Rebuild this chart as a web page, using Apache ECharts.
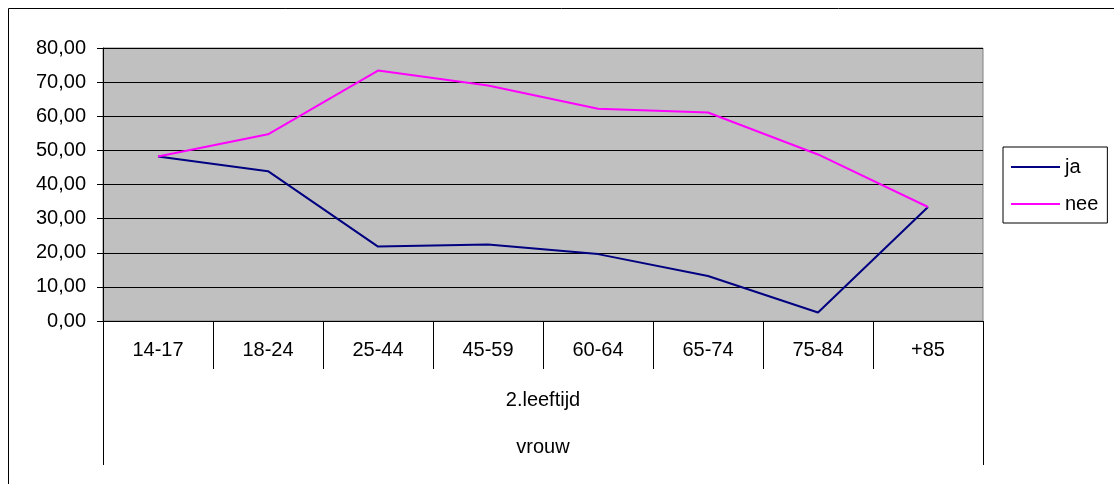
<!DOCTYPE html>
<html><head><meta charset="utf-8">
<script src="https://cdn.jsdelivr.net/npm/echarts@6/dist/echarts.min.js"></script>
<style>html,body{margin:0;padding:0;background:#fff}#c{width:1114px;height:484px}</style>
</head><body><div id="c"></div>
<script>
var categories = ['14-17','18-24','25-44','45-59','60-64','65-74','75-84','+85'];
var groupLevel1 = ['2.leeftijd'];
var groupLevel2 = ['vrouw'];
var jaValues = [48.2, 43.9, 21.8, 22.4, 19.6, 13.2, 2.5, 33.4];
var neeValues = [48.2, 54.7, 73.4, 69.0, 62.2, 61.1, 48.8, 33.4];
var seriesNames = ['ja','nee'];

var font = 'Liberation Sans, Arial, sans-serif';
var fs = 20;
var chart = echarts.init(document.getElementById('c'));
chart.setOption({
  animation: false,
  backgroundColor: '#fff',
  graphic: [{type:'rect', shape:{x:8.5,y:8.5,width:1200,height:600}, style:{fill:'none',stroke:'#000',lineWidth:1}, silent:true, z:-1}],
  grid: {left:103, top:48, width:880, height:273, show:true, backgroundColor:'#C0C0C0', borderColor:'#808080', borderWidth:1},
  legend: {
    orient:'vertical', left:1003, top:147, data:seriesNames,
    icon:'rect', itemWidth:49, itemHeight:2, itemGap:15,
    padding:[9,9,8,8], borderColor:'#000', borderWidth:1, backgroundColor:'#fff',
    textStyle:{fontFamily:font, fontSize:fs, color:'#000', lineHeight:22}
  },
  xAxis: [
    {type:'category', data:categories, boundaryGap:true, position:'bottom',
     axisLine:{show:true, lineStyle:{color:'#000', width:1}},
     axisTick:{show:true, interval:0, length:48, lineStyle:{color:'#000'}},
     axisLabel:{interval:0, margin:19, fontFamily:font, fontSize:fs, color:'#000'}},
    {type:'category', data:groupLevel1, position:'bottom', boundaryGap:true,
     axisLine:{show:false},
     axisTick:{show:true, interval:0, length:144, lineStyle:{color:'#000'}},
     axisLabel:{margin:69, fontFamily:font, fontSize:fs, color:'#000'}},
    {type:'category', data:groupLevel2, position:'bottom', boundaryGap:true,
     axisLine:{show:false}, axisTick:{show:false},
     axisLabel:{margin:116, fontFamily:font, fontSize:fs, color:'#000'}}
  ],
  yAxis: {type:'value', min:0, max:80, interval:10,
    axisLine:{show:true, lineStyle:{color:'#000'}},
    axisTick:{show:true, length:6, inside:false, lineStyle:{color:'#000'}},
    splitLine:{show:true, lineStyle:{color:'#000', width:1}},
    axisLabel:{margin:17, fontFamily:font, fontSize:fs, color:'#000',
      formatter:function(v){return v.toFixed(2).replace('.',',');}}
  },
  series: [
    {name:seriesNames[0], type:'line', data:jaValues, symbol:'none', lineStyle:{color:'#000080', width:2}, itemStyle:{color:'#000080'}},
    {name:seriesNames[1], type:'line', data:neeValues, symbol:'none', lineStyle:{color:'#FF00FF', width:2}, itemStyle:{color:'#FF00FF'}}
  ]
});
</script></body></html>
